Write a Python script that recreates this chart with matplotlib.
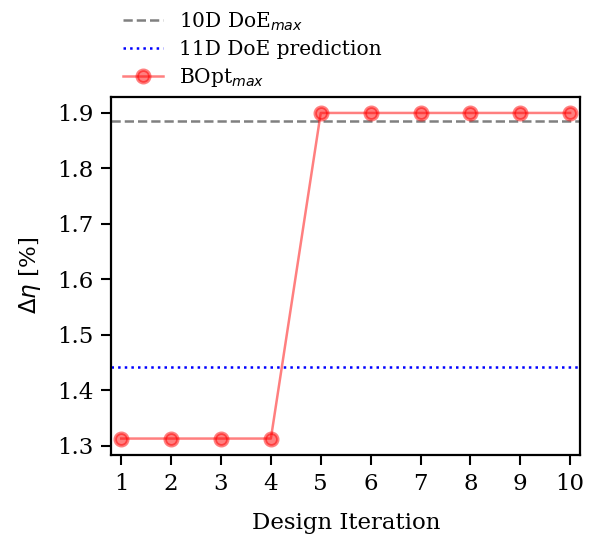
import numpy as np
import matplotlib
matplotlib.use("Agg")
import matplotlib.pyplot as plt

# --- datos ---
iteracion = [1, 2, 3, 4, 5, 6, 7, 8, 9, 10]
bopt_max = [1.313, 1.313, 1.313, 1.313, 1.900, 1.900, 1.900, 1.900, 1.900, 1.900]
doe10_max = 1.885
doe11_pred = 1.442

plt.rcParams["font.family"] = "DejaVu Serif"
plt.rcParams["font.size"] = 16.5

fig = plt.figure(figsize=(5.95, 5.37), dpi=100)
ax = fig.add_axes([0.187, 0.153, 0.788, 0.667])

ax.axhline(doe10_max, color="gray", linestyle="--", linewidth=1.8, label=r"10D DoE$_{max}$")
ax.axhline(doe11_pred, color="blue", linestyle=":", linewidth=1.8, label="11D DoE prediction")
ax.plot(iteracion, bopt_max, color="red", alpha=0.5, marker="o", markersize=9,
        markeredgewidth=2.5, linewidth=1.8, label=r"BOpt$_{max}$")

ax.set_xlim(0.8, 10.2)
ax.set_xticks(iteracion)
ax.set_yticks([1.3, 1.4, 1.5, 1.6, 1.7, 1.8, 1.9])
ax.set_xlabel("Design Iteration", labelpad=12)
ax.set_ylabel(r"$\Delta\eta$ [%]", labelpad=10)
ax.tick_params(length=7, width=1.5, pad=6)
for s in ax.spines.values():
    s.set_linewidth(1.6)

ax.legend(loc="lower left", bbox_to_anchor=(0.008, 1.0), frameon=False, fontsize=14.5,
          handlelength=2.0, borderaxespad=0.0, labelspacing=0.35)

fig.savefig("out.png", dpi=100)
